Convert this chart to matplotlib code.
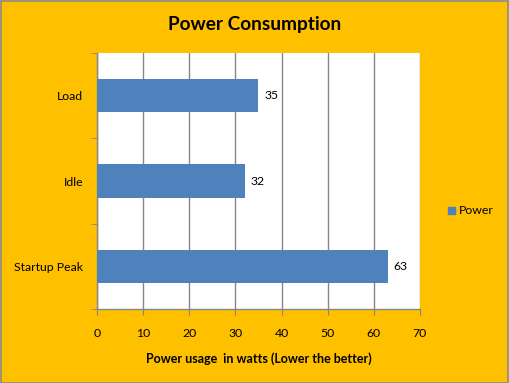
#! /usr/bin/env python

# import modules
# --------------
import matplotlib
matplotlib.use('Agg')
import matplotlib.pyplot as plt
from matplotlib.patches import Rectangle

# data --
categories = ['Startup Peak', 'Idle', 'Load']
power = [63, 32, 35]
xticks = [0, 10, 20, 30, 40, 50, 60, 70]

bg = '#FFC000'
barc = '#4F81BD'
gridc = '#868686'

plt.rcParams['font.family'] = ['Lato', 'DejaVu Sans']

fig = plt.figure(figsize=(5.09, 3.83), dpi=100)
fig.patch.set_facecolor(bg)
fig.patches.append(Rectangle((0.001, 0.001), 0.997, 0.996, transform=fig.transFigure,
                             fill=False, edgecolor='#8c8c8c', lw=1.2))

ax = fig.add_axes([0.1906, 0.1932, 0.825 - 0.1906, 0.8616 - 0.1932])
ax.set_facecolor('white')

# bars --
ypos = list(range(len(categories)))
bars = ax.barh(ypos, power, height=0.39, color=barc, zorder=3)
for b, v in zip(bars, power):
    ax.text(b.get_width() + 1.3, b.get_y() + b.get_height() / 2, str(v),
            va='center', ha='left', fontsize=8.8, color='black')

# axes --
ax.set_xlim(0, 70)
ax.set_ylim(-0.5, 2.5)
ax.set_xticks(xticks)
ax.set_xticklabels([str(t) for t in xticks], fontsize=8.8)
ax.set_yticks(ypos)
ax.set_yticklabels(categories, fontsize=8.8)
ax.set_yticks([-0.5, 0.5, 1.5, 2.5], minor=True)
ax.tick_params(axis='y', which='major', length=0, pad=10)
ax.tick_params(axis='y', which='minor', length=4, color=gridc, direction='out')
ax.tick_params(axis='x', length=4, color=gridc, direction='out', pad=10)

ax.xaxis.grid(True, color=gridc, lw=1.0, zorder=0)
for s in ['top', 'right']:
    ax.spines[s].set_visible(False)
for s in ['left', 'bottom']:
    ax.spines[s].set_color(gridc)
    ax.spines[s].set_linewidth(1.0)

ax.set_xlabel('Power usage  in watts (Lower the better)', fontsize=9,
              fontweight='bold', labelpad=9)

# title --
fig.text(0.5, 0.935, 'Power Consumption', ha='center', va='center',
         fontsize=13.7, fontweight='bold')

# legend --
fig.patches.append(Rectangle((448 / 509, 1 - 214 / 383), 7 / 509, 7 / 383,
                             transform=fig.transFigure, color=barc))
fig.text(459 / 509, 1 - 211 / 383, 'Power', ha='left', va='center', fontsize=8.8)

fig.savefig('out.png', dpi=100, facecolor=bg)
